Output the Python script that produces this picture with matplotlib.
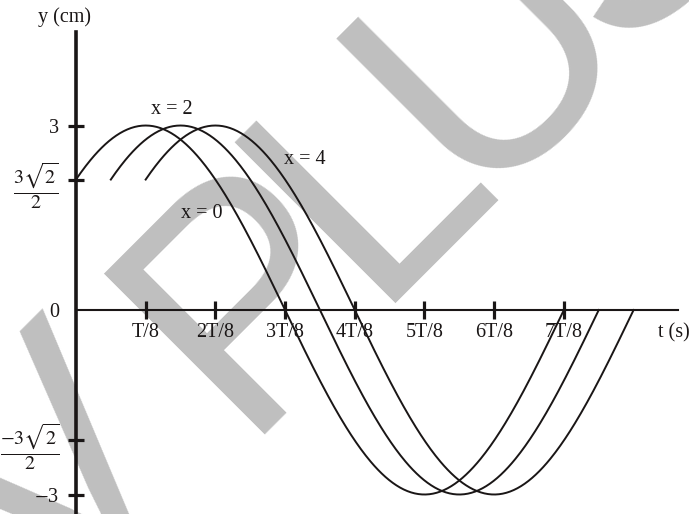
import numpy as np
import matplotlib
matplotlib.use("Agg")
import matplotlib.pyplot as plt

plt.rcParams.update({
    "font.family": "serif",
    "font.serif": ["Liberation Serif", "DejaVu Serif"],
    "mathtext.fontset": "stix",
})

# wave y = A sin(wt + pi/4 - kx), time in units of T/8
AMPLITUDE = 3.0
POSITIONS = ["x = 0", "x = 2", "x = 4"]
LAGS = [0.0, 0.5, 1.0]          # delay of each curve, in T/8
SPAN = 7.0                      # each curve drawn over 7T/8

X_TICKS = [1, 2, 3, 4, 5, 6, 7]
X_LABELS = ["T/8", "2T/8", "3T/8", "4T/8", "5T/8", "6T/8", "7T/8"]
Y_TICKS = [3, 3 * np.sqrt(2) / 2, 0, -3 * np.sqrt(2) / 2, -3]
Y_LABELS = ["3", r"$\dfrac{3\sqrt{2}}{2}$", "0",
            r"$\dfrac{-3\sqrt{2}}{2}$", "$-$3"]

WATERMARK = ["V", "P", "L", "U", "S"]

INK = "#1a1616"
W, H = 689, 514

fig = plt.figure(figsize=(6.89, 5.14), dpi=100)
ax = fig.add_axes([0, 0, 1, 1])
ax.patch.set_alpha(0)

# grey watermark letters, on a 45 degree baseline (pixel origins)
wm_origins = [(49, 623), (238, 434), (369, 303), (472, 200), (617, 56)]
for letter, (px, py) in zip(WATERMARK, wm_origins):
    fig.text(px / W, 1 - py / H, letter, rotation=45,
             rotation_mode="anchor", ha="left", va="baseline",
             fontsize=238, family="Liberation Sans", color="#bfbfbf",
             zorder=-5)

for lag in LAGS:
    u = np.linspace(lag, lag + SPAN, 400)
    y = AMPLITUDE * np.sin(np.pi / 4 * (u - lag) + np.pi / 4)
    ax.plot(u, y, color=INK, lw=1.4, zorder=3)

ax.set_xlim(-1.09, 8.795)
ax.set_ylim(-3.317, 5.041)

for side in ["top", "right"]:
    ax.spines[side].set_visible(False)
ax.spines["left"].set_position(("data", 0))
ax.spines["bottom"].set_position(("data", 0))
ax.spines["left"].set_bounds(-3.317, 4.52)
ax.spines["bottom"].set_bounds(0, 8.64)
ax.spines["left"].set_linewidth(2.6)
ax.spines["bottom"].set_linewidth(1.5)
ax.spines["left"].set_color(INK)
ax.spines["bottom"].set_color(INK)

ax.set_xticks(X_TICKS, X_LABELS)
ax.set_yticks(Y_TICKS, Y_LABELS)
ax.tick_params(axis="x", direction="inout", length=13, width=2.3,
               color=INK, pad=3, labelsize=14.5, labelcolor=INK)
ax.tick_params(axis="y", direction="inout", length=12, width=2.3,
               color=INK, pad=6, labelsize=14.5, labelcolor=INK)
ax.yaxis.get_major_ticks()[2].tick1line.set_visible(False)

# curve names and axis titles
for name, (px, py) in zip(POSITIONS, [(202, 213), (172, 110), (305, 159)]):
    fig.text(px / W, 1 - py / H, name, ha="center", va="center",
             fontsize=14.5, color=INK)
fig.text(65 / W, 1 - 17 / H, "y (cm)", ha="center", va="center",
         fontsize=14.5, color=INK)
fig.text(658 / W, 1 - 333 / H, "t (s)", ha="left", va="center",
         fontsize=14.5, color=INK)

fig.savefig("out.png", dpi=100)
